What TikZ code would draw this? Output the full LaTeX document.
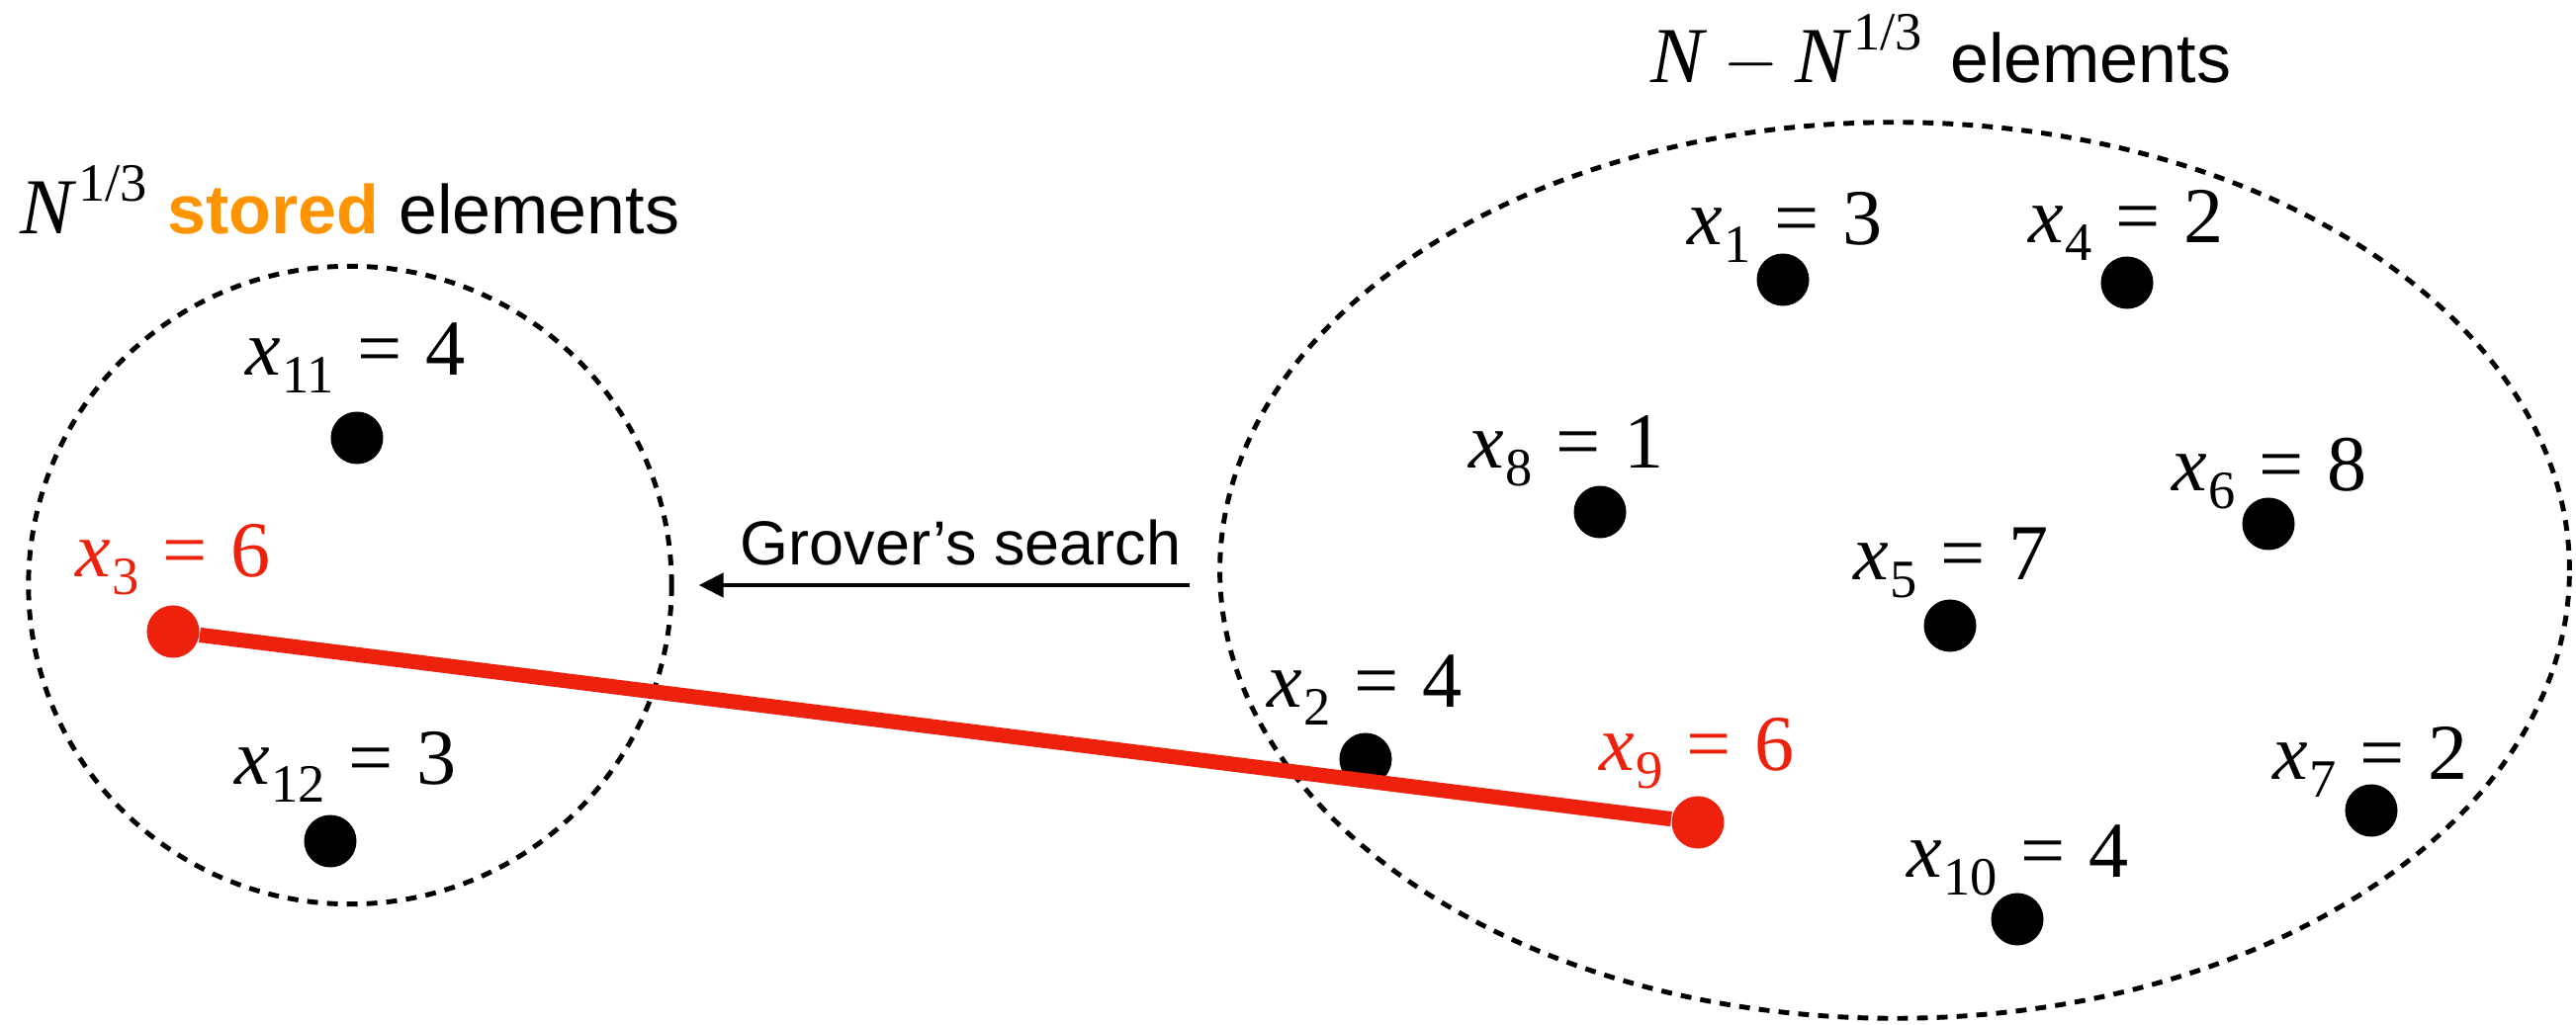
\documentclass[tikz,border=0pt]{standalone}
\usepackage{fontspec}
\setmainfont{Liberation Serif}
\setsansfont{Liberation Sans}
\usepackage{tikz}
\usetikzlibrary{arrows.meta,shapes.geometric}
\definecolor{foundred}{HTML}{EE220C}
\definecolor{storedorange}{HTML}{FF9300}
\definecolor{dotblack}{HTML}{000000}

\newcommand{\subsz}{\fontsize{15.5}{16}\selectfont}
\newcommand{\titlesf}{\sffamily\fontsize{19.9}{24}\selectfont}
\newcommand{\elem}[2]{\textit{x}\kern0.01em\raisebox{-0.22em}{\subsz #1}\kern0.3em=\kern0.3em#2}
\newcommand{\Ncube}{\textit{N}\kern0.02em\raisebox{0.42em}{\subsz 1/3}}

\begin{document}
\begin{tikzpicture}[
  x=0.01cm,
  y=-0.01cm,
  pool/.style={ellipse, draw=black, line width=1.4pt, dash pattern=on 3.1pt off 2.6pt,
    inner sep=0pt},
  dot/.style={circle, fill=dotblack, minimum size=0.53cm, inner sep=0pt},
  hit/.style={dot, fill=foundred},
  val/.style={font=\fontsize{22.8}{27}\selectfont, inner sep=0pt, anchor=base west},
  title/.style={val},
  search/.style={-{Triangle[length=0.25cm,width=0.24cm]}, line width=1.4pt},
  found/.style={draw=foundred, line width=4.3pt}
]
\useasboundingbox (0,0) rectangle (2605,1037);

% the two pools
\node[pool, minimum width=6.5cm, minimum height=6.45cm] (stored) at (354,592) {};
\node[pool, minimum width=13.64cm, minimum height=9.06cm] (rest) at (1916,577) {};

\node[title] (storedtitle) at (20,237)
  {\Ncube\ {\titlesf\bfseries\color{storedorange}stored} {\titlesf elements}};
\node[title] (resttitle) at (1669,84)
  {\textit{N}\kern0.2em$-$\kern0.2em\Ncube\kern0.1em\ {\titlesf elements}};

% stored elements
\node[dot] (d11) at (361,443) {};
\node[dot] (d12) at (334,851) {};
\node[hit] (d3) at (175,639) {};
\node[val] (l11) at (248,380) {\elem{11}{4}};
\node[val, text=foundred] (l3) at (76,584) {\elem{3}{6}};
\node[val] (l12) at (237,794) {\elem{12}{3}};

% remaining elements
\node[dot] (d1) at (1803,283) {};
\node[dot] (d4) at (2151,286) {};
\node[dot] (d8) at (1618,518) {};
\node[dot] (d6) at (2294,530) {};
\node[dot] (d5) at (1972,633) {};
\node[dot] (d2) at (1381,768) {};
\node[dot] (d7) at (2398,820) {};
\node[dot] (d10) at (2040,930) {};
\node[hit] (d9) at (1717,832) {};

\node[val] (l1) at (1706,248) {\elem{1}{3}};
\node[val] (l4) at (2051,246) {\elem{4}{2}};
\node[val] (l8) at (1485,474) {\elem{8}{1}};
\node[val] (l6) at (2196,497) {\elem{6}{8}};
\node[val] (l5) at (1874,587) {\elem{5}{7}};
\node[val] (l2) at (1281,716) {\elem{2}{4}};
\node[val] (l7) at (2298,789) {\elem{7}{2}};
\node[val] (l10) at (1928,888) {\elem{10}{4}};
\node[val, text=foundred] (l9) at (1617,780) {\elem{9}{6}};

\draw[found] (d3) -- (d9);

\draw[search, shorten <=0.28cm, shorten >=0.25cm] (rest.west |- stored.east) -- (stored.east)
  node[midway, above=0.17cm, xshift=0.15cm, inner sep=0pt,
    font=\sffamily\fontsize{17.9}{21}\selectfont] (grover) {Grover’s search};

\end{tikzpicture}
\end{document}
